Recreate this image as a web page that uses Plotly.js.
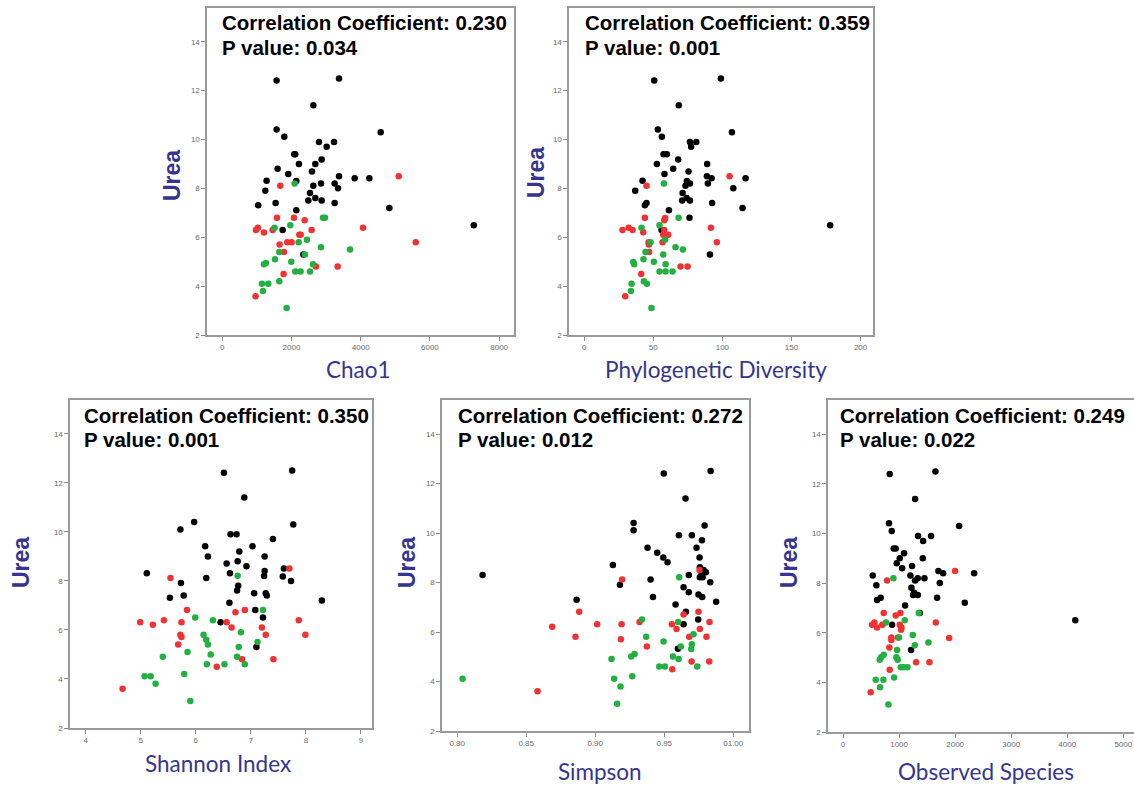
<!DOCTYPE html>
<html>
<head>
<meta charset="utf-8">
<script src="https://cdn.plot.ly/plotly-3.0.1.min.js"></script>
<style>html,body{margin:0;padding:0;background:#fff;}#chart{width:1134px;height:789px;}</style>
</head>
<body>
<div id="chart"></div>
<script>
// ---------- Panel 1: Chao1 ----------
const chao1BlackX = [1571,3374,2631,1571,4579,1793,2795,3229,3017,2080,2110,2872,2217,2689,1600,2593,1908,3374,3827,4251,1282,2140,2853,3248,2631,1243,3345,2535,2689,2487,2872,1542,3248,1041,4829,2140,7268,1745,2342];
const chao1BlackY = [12.41,12.50,11.40,10.41,10.30,10.11,9.90,9.90,9.70,9.40,9.40,9.18,9.00,9.00,8.80,8.69,8.59,8.50,8.41,8.41,8.31,8.30,8.20,8.20,8.11,7.90,8.00,7.81,7.61,7.50,7.50,7.40,7.40,7.31,7.20,7.10,6.49,6.30,5.29];
const chao1RedX = [5099,1677,1581,2072,2381,974,1031,1205,1456,2583,4068,2227,2266,1880,2005,5591,1658,1783,2709,3335,1774,964];
const chao1RedY = [8.50,8.11,6.80,6.80,6.70,6.30,6.39,6.19,6.30,6.30,6.39,6.10,6.10,5.80,5.80,5.80,5.70,5.40,4.80,4.80,4.50,3.59];
const chao1GreenX = [2092,2911,2969,1966,1513,2448,2207,2853,3692,1648,2390,1523,1995,1263,1205,2622,2111,2265,2535,1648,1147,1330,1176,1860];
const chao1GreenY = [8.20,6.80,6.80,6.49,6.39,5.90,5.80,5.59,5.50,5.40,5.29,5.10,5.00,4.95,4.90,4.90,4.60,4.60,4.60,4.20,4.10,4.10,3.80,3.10];

// ---------- Panel 2: Phylogenetic Diversity ----------
const pdBlackX = [50.7,98.9,68.5,53.3,106.9,56.2,76.5,81.1,77.4,57.4,59.8,68.0,52.6,89.0,64.4,75.5,58.1,88.8,92.2,116.8,42.2,74.3,89.5,76.5,73.3,36.9,107.9,71.2,74.1,70.9,76.5,45.1,92.6,43.9,114.6,61.3,178.0,56.0,91.0,76.2];
const pdBlackY = [12.41,12.50,11.40,10.41,10.30,10.11,9.90,9.90,9.70,9.40,9.40,9.18,9.00,9.00,8.80,8.69,8.59,8.50,8.41,8.41,8.31,8.30,8.20,8.20,8.11,7.90,8.00,7.81,7.61,7.50,7.50,7.40,7.40,7.31,7.20,7.10,6.49,6.30,5.29,6.80];
const pdRedX = [105.2,45.1,43.9,57.9,58.6,27.7,32.1,35.0,57.9,91.7,42.7,60.8,57.2,46.6,56.7,96.0,46.8,47.0,69.7,74.8,41.3,29.7];
const pdRedY = [8.50,8.11,6.80,6.70,6.79,6.30,6.39,6.30,6.30,6.39,6.20,6.10,6.10,5.80,5.80,5.80,5.70,5.40,4.80,4.80,4.50,3.59];
const pdGreenX = [57.7,68.3,54.5,41.5,58.6,48.0,66.1,71.4,44.4,57.2,42.9,50.4,35.5,36.2,58.9,54.5,58.9,63.9,43.2,45.4,34.3,33.8,48.7];
const pdGreenY = [8.20,6.80,6.49,6.39,5.90,5.80,5.59,5.50,5.40,5.29,5.10,5.00,4.99,4.90,4.90,4.60,4.60,4.60,4.20,4.10,4.10,3.80,3.10];

// ---------- Panel 3: Shannon Index ----------
const shBlackX = [6.51,7.75,6.88,5.97,7.77,5.72,6.63,6.74,7.40,6.17,7.03,6.79,6.22,7.25,6.56,6.76,6.92,7.60,7.25,5.11,7.24,6.62,6.19,7.73,5.73,6.77,6.75,7.06,7.27,5.78,7.29,5.53,8.29,6.61,7.08,7.22,6.45,7.10,7.58];
const shBlackY = [12.41,12.50,11.40,10.40,10.30,10.10,9.90,9.90,9.71,9.41,9.41,9.20,9.00,9.00,8.71,8.80,8.60,8.51,8.40,8.31,8.20,8.31,8.12,8.00,7.91,7.80,7.61,7.50,7.50,7.41,7.41,7.31,7.20,7.11,6.81,6.51,6.31,5.30,8.18];
const shRedX = [7.70,5.54,5.84,6.72,6.89,4.99,5.22,5.42,5.74,6.56,7.87,6.65,7.20,5.72,7.27,7.99,5.74,5.68,6.84,7.41,6.38,4.67];
const shRedY = [8.51,8.12,6.81,6.72,6.81,6.31,6.21,6.40,6.31,6.31,6.40,6.10,6.10,5.80,5.80,5.80,5.71,5.41,4.80,4.80,4.50,3.60];
const shGreenX = [6.76,7.22,5.99,6.31,6.14,6.82,6.19,7.12,6.22,6.78,5.85,6.27,5.40,6.75,6.20,6.52,6.89,5.79,5.07,5.18,5.27,5.90];
const shGreenY = [8.21,6.81,6.51,6.40,5.80,5.91,5.60,5.51,5.41,5.30,5.10,5.00,4.91,4.91,4.60,4.60,4.60,4.20,4.11,4.11,3.81,3.10];

// ---------- Panel 4: Simpson ----------
const siBlackX = [0.9497,0.9836,0.9654,0.9278,0.9792,0.9278,0.9606,0.9700,0.9773,0.9379,0.9734,0.9449,0.9493,0.9756,0.9524,0.9128,0.9758,0.9785,0.9802,0.9770,0.8184,0.9678,0.9758,0.9778,0.9401,0.9833,0.9179,0.9640,0.9678,0.9748,0.9775,0.9418,0.8865,0.9876,0.9582,0.9657,0.9746,0.9640,0.9599];
const siBlackY = [12.41,12.51,11.40,10.41,10.31,10.11,9.91,9.91,9.71,9.41,9.41,9.21,9.01,9.01,8.82,8.71,8.62,8.51,8.42,8.32,8.31,8.31,8.21,8.21,8.12,8.01,7.91,7.81,7.61,7.52,7.42,7.42,7.31,7.22,7.11,6.82,6.51,6.32,5.32];
const siRedX = [0.9756,0.9195,0.8884,0.9640,0.9748,0.8688,0.9014,0.9191,0.9321,0.9555,0.9828,0.9589,0.9758,0.8857,0.9681,0.9806,0.9186,0.9374,0.9698,0.9826,0.9558,0.8582];
const siRedY = [8.51,8.12,6.82,6.71,6.82,6.21,6.32,6.32,6.41,6.32,6.41,6.12,6.12,5.81,5.81,5.81,5.71,5.42,4.81,4.81,4.50,3.61];
const siGreenX = [0.9608,0.9338,0.9601,0.9712,0.9369,0.9495,0.9700,0.9620,0.9695,0.9285,0.9261,0.9563,0.9118,0.9604,0.9464,0.9505,0.9739,0.9268,0.9137,0.8039,0.9183,0.9159];
const siGreenY = [8.21,6.51,6.41,5.91,5.81,5.62,5.51,5.42,5.31,5.11,5.01,5.01,4.91,4.91,4.61,4.61,4.61,4.21,4.11,4.11,3.80,3.10];

// ---------- Panel 5: Observed Species ----------
const obBlackX = [833,1649,1286,821,2071,869,1339,1571,1429,905,940,1089,1012,1423,958,1232,1054,1702,1786,2339,530,1202,1452,1333,1286,595,1726,1220,1268,1333,1250,673,1678,607,2172,1107,4143,875,1214,1369];
const obBlackY = [12.40,12.50,11.39,10.41,10.30,10.10,9.90,9.90,9.70,9.40,9.40,9.20,9.00,9.00,8.80,8.69,8.60,8.49,8.40,8.40,8.31,8.31,8.20,8.20,8.11,7.91,8.00,7.81,7.61,7.52,7.52,7.41,7.41,7.32,7.21,7.10,6.50,6.32,5.30,6.80];
const obRedX = [2000,786,726,940,1024,518,560,607,702,1012,1655,1036,1042,863,982,1893,863,827,1304,1542,833,494];
const obRedY = [8.49,8.11,6.80,6.70,6.80,6.32,6.41,6.21,6.32,6.32,6.41,6.12,6.21,5.81,5.81,5.79,5.71,5.41,4.81,4.81,4.51,3.60];
const obGreenX = [899,1351,1101,768,1244,1000,1524,1280,726,964,679,952,655,976,1030,1083,1149,911,583,720,661,810];
const obGreenY = [8.20,6.80,6.50,6.41,5.91,5.81,5.61,5.50,5.11,5.30,5.01,5.01,4.91,4.91,4.61,4.61,4.61,4.20,4.11,4.11,3.80,3.11];

// ---------- Labels ----------
const xTitles = ["Chao1","Phylogenetic Diversity","Shannon Index","Simpson","Observed Species"];
const yTitle = "Urea";
const corrCoef = ["0.230","0.359","0.350","0.272","0.249"];
const pValues = ["0.034","0.001","0.001","0.012","0.022"];
const yTicks = [2,4,6,8,10,12,14];
const xTicks1 = [0,2000,4000,6000,8000];
const xTicks2 = [0,50,100,150,200];
const xTicks3 = [4,5,6,7,8,9];
const xTicks4 = [0.80,0.85,0.90,0.95,1.00];
const xTickText4 = ["0.80","0.85","0.90","0.95","01.00"];
const xTicks5 = [0,1000,2000,3000,4000,5000];

const W = 1134, H = 789;
const COLORS = {black:'#000000', red:'#f03232', green:'#22b040'};
const panels = [
  {bx:[chao1BlackX,chao1BlackY], rx:[chao1RedX,chao1RedY], gx:[chao1GreenX,chao1GreenY],
   box:[207,8,514,335], xr:[-440,8430], xt:xTicks1, xtt:null,
   title:[358,370], urea:[172,176], txt:[220]},
  {bx:[pdBlackX,pdBlackY], rx:[pdRedX,pdRedY], gx:[pdGreenX,pdGreenY],
   box:[569,8,873,335], xr:[-11,209], xt:xTicks2, xtt:null,
   title:[716,370], urea:[536,173], txt:[583]},
  {bx:[shBlackX,shBlackY], rx:[shRedX,shRedY], gx:[shGreenX,shGreenY],
   box:[70,400,372,728], xr:[3.715,9.2], xt:xTicks3, xtt:null,
   title:[218,763], urea:[21,563], txt:[82]},
  {bx:[siBlackX,siBlackY], rx:[siRedX,siRedY], gx:[siGreenX,siGreenY],
   box:[442,400,749,731], xr:[0.789,1.0114], xt:xTicks4, xtt:xTickText4,
   title:[600,771], urea:[407,563], txt:[456]},
  {bx:[obBlackX,obBlackY], rx:[obRedX,obRedY], gx:[obGreenX,obGreenY],
   box:[828,400,1134,732], xr:[-268,5191], xt:xTicks5, xtt:null,
   title:[986,771], urea:[789,563], txt:[838]}
];

const traces = [];
const layout = {
  width:W, height:H, margin:{l:0,r:0,t:0,b:0},
  paper_bgcolor:'#ffffff', plot_bgcolor:'#ffffff',
  showlegend:false, annotations:[]
};

panels.forEach((p, i) => {
  const n = i + 1;
  const xa = n === 1 ? 'x' : 'x' + n;
  const ya = n === 1 ? 'y' : 'y' + n;
  [['black', p.bx], ['red', p.rx], ['green', p.gx]].forEach(([c, d]) => {
    traces.push({type:'scatter', mode:'markers', x:d[0], y:d[1], xaxis:xa, yaxis:ya,
      marker:{color:COLORS[c], size:6.5, line:{width:0}}, hoverinfo:'x+y'});
  });
  const [l, t, r, b] = p.box;
  const axCommon = {showline:true, mirror:true, linecolor:'#9a9a9a', linewidth:1.6,
    ticks:'outside', ticklen:4, tickwidth:1, tickcolor:'#8a8a8a',
    tickfont:{family:'Liberation Sans, Arial, sans-serif', size:8, color:'#6a6a6a'},
    showgrid:false, zeroline:false, fixedrange:true};
  layout['xaxis' + (n === 1 ? '' : n)] = Object.assign({}, axCommon, {
    domain:[l / W, Math.min(r / W, 1)], range:p.xr, anchor:ya,
    tickmode:'array', tickvals:p.xt, ticktext:p.xtt || p.xt.map(String)});
  layout['yaxis' + (n === 1 ? '' : n)] = Object.assign({}, axCommon, {
    domain:[1 - b / H, 1 - t / H], range:[2, 15.38], anchor:xa,
    tickmode:'array', tickvals:yTicks, ticktext:yTicks.map(String)});
  const txtFont = {family:'Liberation Sans, Arial, sans-serif', size:20.5, color:'#000'};
  layout.annotations.push({xref:'paper', yref:'paper', x:p.txt[0] / W, y:1 - (t + 15) / H,
    xanchor:'left', yanchor:'middle', showarrow:false, text:'<b>Correlation Coefficient: ' + corrCoef[i] + '</b>', font:txtFont});
  layout.annotations.push({xref:'paper', yref:'paper', x:p.txt[0] / W, y:1 - (t + 39) / H,
    xanchor:'left', yanchor:'middle', showarrow:false, text:'<b>P value: ' + pValues[i] + '</b>', font:txtFont});
  layout.annotations.push({xref:'paper', yref:'paper', x:p.title[0] / W, y:1 - p.title[1] / H,
    xanchor:'center', yanchor:'middle', showarrow:false, text:xTitles[i],
    font:{family:'Lato, sans-serif', size:22.5, color:'#35358f'}});
  layout.annotations.push({xref:'paper', yref:'paper', x:p.urea[0] / W, y:1 - p.urea[1] / H,
    xanchor:'center', yanchor:'middle', showarrow:false, textangle:-90, text:'<b>' + yTitle + '</b>',
    font:{family:'Liberation Sans, Arial, sans-serif', size:23, color:'#35358f'}});
});

Plotly.newPlot('chart', traces, layout, {displayModeBar:false, staticPlot:true});
</script>
</body>
</html>
